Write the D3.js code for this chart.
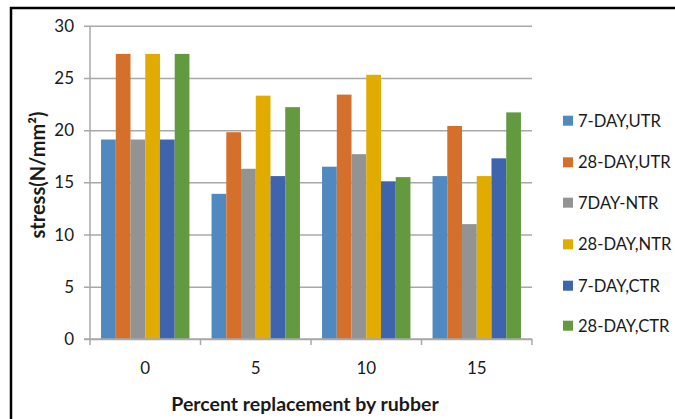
<!DOCTYPE html>
<html>
<head>
<meta charset="utf-8">
<script src="https://cdn.jsdelivr.net/npm/d3@7"></script>
<style>
  html, body { margin: 0; padding: 0; background: #fff; }
  svg { display: block; }
  text { font-family: Lato, "Open Sans", sans-serif; fill: #1a1a1a; }
</style>
</head>
<body>
<svg id="chart" width="675" height="419"></svg>
<script>
// Compressive stress of rubberised concrete by rubber replacement level
const categories = ["0", "5", "10", "15"];
const seriesNames = ["7-DAY,UTR", "28-DAY,UTR", "7DAY-NTR", "28-DAY,NTR", "7-DAY,CTR", "28-DAY,CTR"];
const utr7  = [19.1, 13.9, 16.5, 15.6];
const utr28 = [27.3, 19.8, 23.4, 20.4];
const ntr7  = [19.1, 16.3, 17.7, 11.0];
const ntr28 = [27.3, 23.3, 25.3, 15.6];
const ctr7  = [19.1, 15.6, 15.1, 17.3];
const ctr28 = [27.3, 22.2, 15.5, 21.7];
const yTicks = [0, 5, 10, 15, 20, 25, 30];
const colors = ["#5089c0", "#d4702c", "#939393", "#e2ab00", "#3d64ad", "#639a3f"];

const seriesValues = [utr7, utr28, ntr7, ntr28, ctr7, ctr28];

const svg = d3.select("#chart");
const plot = { left: 90, right: 532, top: 25.7, bottom: 339 };

// frame around the chart
svg.append("rect")
  .attr("x", 11).attr("y", 8).attr("width", 720).attr("height", 500)
  .attr("fill", "none").attr("stroke", "#000").attr("stroke-width", 2.5);

const x0 = d3.scaleBand().domain(categories).range([plot.left, plot.right])
  .paddingInner(0.2).paddingOuter(0.1);
const x1 = d3.scaleBand().domain(seriesNames).range([0, x0.bandwidth()]);
const y = d3.scaleLinear().domain([0, 30]).range([plot.bottom, plot.top]);

// horizontal gridlines with short outward ticks
const yAxis = d3.axisLeft(y).tickValues(yTicks).tickSize(-(plot.right - plot.left)).tickPadding(0).tickFormat("");
const gy = svg.append("g").attr("transform", `translate(${plot.left},0)`).call(yAxis);
gy.select(".domain").remove();
gy.selectAll(".tick line").attr("x1", -6).attr("stroke", "#a8a8a8").attr("stroke-width", 1.5);

// y tick labels
svg.append("g").selectAll("text").data(yTicks).join("text")
  .attr("x", 74).attr("y", d => y(d))
  .attr("dy", "0.36em").attr("text-anchor", "end")
  .style("font-size", "17px")
  .text(d => d);

// bars
const groups = svg.append("g").selectAll("g").data(categories).join("g")
  .attr("transform", d => `translate(${x0(d)},0)`);
groups.selectAll("rect")
  .data((c, ci) => seriesNames.map((s, si) => ({ s, si, v: seriesValues[si][ci] })))
  .join("rect")
  .attr("x", d => x1(d.s))
  .attr("y", d => y(d.v))
  .attr("width", x1.bandwidth())
  .attr("height", d => y(0) - y(d.v))
  .attr("fill", d => colors[d.si]);

// y axis line
svg.append("line")
  .attr("x1", plot.left).attr("x2", plot.left)
  .attr("y1", plot.top).attr("y2", plot.bottom)
  .attr("stroke", "#a8a8a8").attr("stroke-width", 1.5);

// x axis with boundary ticks
const gx = svg.append("g").attr("transform", `translate(0,${plot.bottom})`);
gx.append("line").attr("x1", plot.left - 6).attr("x2", plot.right)
  .attr("stroke", "#a8a8a8").attr("stroke-width", 1.5);
const step = x0.step();
const boundaries = d3.range(categories.length + 1).map(i => plot.left + i * step);
gx.selectAll(".bt").data(boundaries).join("line").attr("class", "bt")
  .attr("x1", d => d).attr("x2", d => d).attr("y1", 0).attr("y2", 6)
  .attr("stroke", "#a8a8a8").attr("stroke-width", 1.5);
gx.selectAll("text").data(categories).join("text")
  .attr("x", d => x0(d) + x0.bandwidth() / 2).attr("y", 29)
  .attr("dy", "0.36em").attr("text-anchor", "middle")
  .style("font-size", "17px")
  .text(d => d);

// axis titles
svg.append("text")
  .attr("x", 305).attr("y", 404).attr("dy", "0.36em")
  .attr("text-anchor", "middle")
  .style("font-size", "19.5px").style("font-weight", "bold")
  .text("Percent replacement by rubber");
svg.append("text")
  .attr("transform", "translate(38,175) rotate(-90)")
  .attr("dy", "0.36em").attr("text-anchor", "middle")
  .style("font-size", "20px").style("font-weight", "bold")
  .text("stress(N/mm²)");

// legend
const legendRows = [120.7, 162.3, 202.7, 244.3, 285.7, 325.7];
const lg = svg.append("g").selectAll("g").data(seriesNames).join("g")
  .attr("transform", (d, i) => `translate(563,${legendRows[i]})`);
lg.append("rect").attr("x", 0).attr("y", -5).attr("width", 10).attr("height", 10)
  .attr("fill", (d, i) => colors[i]);
lg.append("text").attr("x", 15).attr("dy", "0.36em")
  .style("font-size", "16.6px")
  .text(d => d);
</script>
</body>
</html>
